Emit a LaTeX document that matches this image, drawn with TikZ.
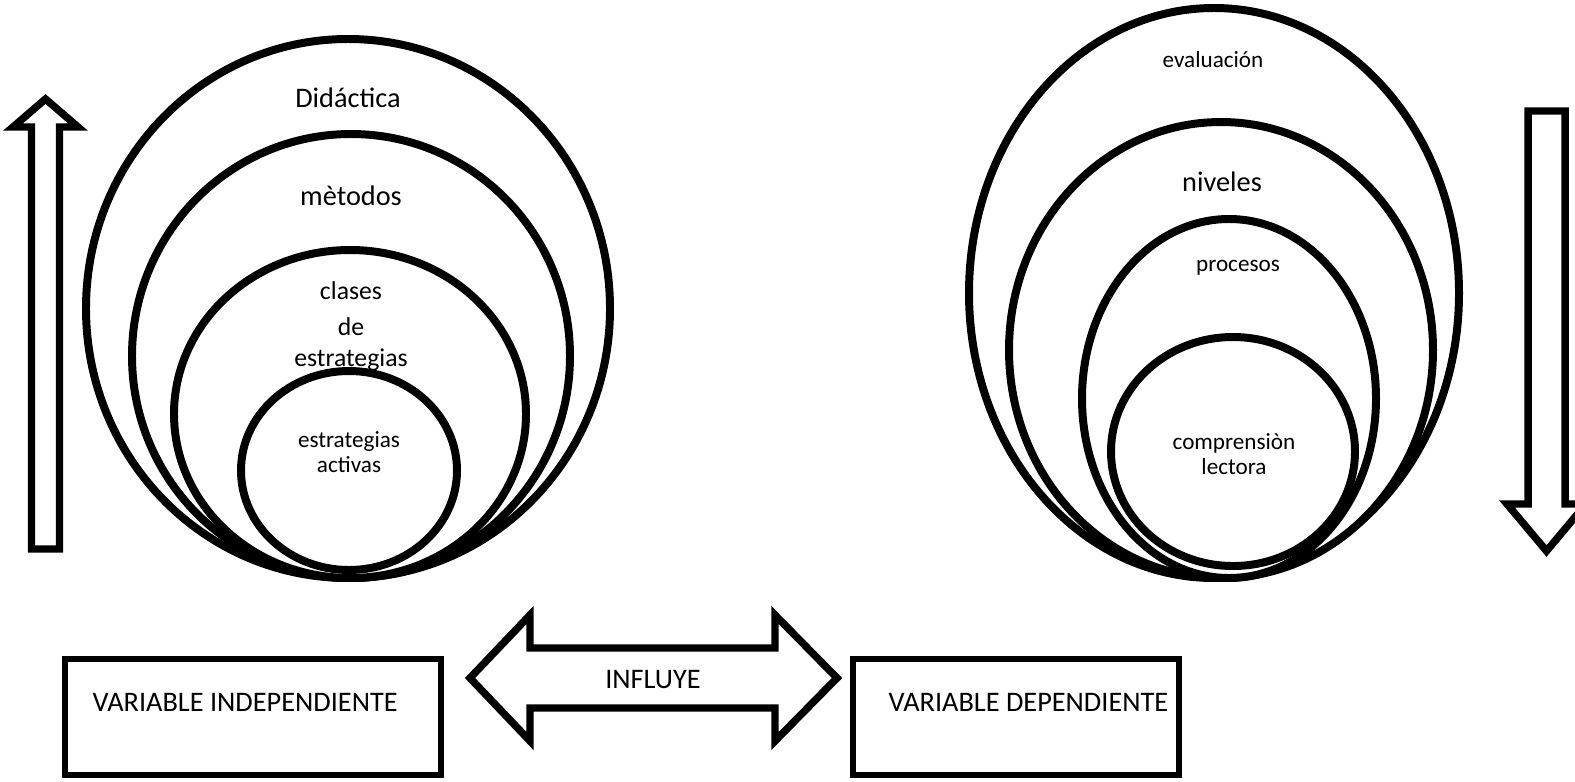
\documentclass[tikz,border=0pt]{standalone}
\usepackage{fontspec}
\setmainfont{Carlito}
\usepackage{tikz}

\begin{document}
\begin{tikzpicture}[x=0.3886pt,y=-0.3886pt,
		ring/.style={draw,line width=3.1pt,fill=white},
		blockarrow/.style={draw,line width=2.9pt,fill=white,line join=miter},
		varbox/.style={draw,line width=2.7pt},
		biglbl/.style={inner sep=0pt,anchor=base,font=\fontsize{11}{13}\selectfont},
		midlbl/.style={inner sep=0pt,anchor=base,align=center,font=\fontsize{10}{11.7}\selectfont},
		smalllbl/.style={inner sep=0pt,anchor=base,align=center,font=\fontsize{9}{9.5}\selectfont}]
		\useasboundingbox (0,0) rectangle (1575,781);
%		\draw[help lines,step=50] (0,0) grid (1575,781);
		\path (348,308.5) coordinate (didC);
		\path (351,356) coordinate (metC);
		\path (350,414) coordinate (claC);
		\path (349,470.5) coordinate (actC);
		\path (1214,293) coordinate (evaC);
		\path (1221,350) coordinate (nivC);
		\path (1229,398.5) coordinate (proC);
		\path (1233,451.5) coordinate (comC);

		% independiente
		\draw[ring] (didC) ellipse [x radius=262,y radius=269.5];
		\node[biglbl] (didactica) at (348,107) {Didáctica};
		\draw[ring] (metC) ellipse [x radius=219,y radius=222];
		\node[biglbl] (metodos) at (351,205) {mètodos};
		\draw[ring] (claC) ellipse [x radius=176,y radius=164];
		\node[midlbl] (clases) at (351,366) {clases\\[2.3pt]de\\estrategias};
		\draw[ring] (actC) ellipse [x radius=108,y radius=99.5];
		\node[smalllbl] (activas) at (349,472) {estrategias\\activas};

		% dependiente
		\draw[ring] (evaC) ellipse [x radius=245,y radius=285];
		\node[smalllbl] (evaluacion) at (1213,67) {evaluación};
		\draw[ring] (nivC) ellipse [x radius=212,y radius=228];
		\node[biglbl] (niveles) at (1222,191) {niveles};
		\draw[ring] (proC) ellipse [x radius=147,y radius=179.5];
		\node[smalllbl] (procesos) at (1238,271) {procesos};
		\draw[ring] (comC) ellipse [x radius=122,y radius=114.5];
		\node[smalllbl] (comprension) at (1234,474) {comprensiòn\\lectora};

		% flechas
		\draw[blockarrow] (31.5,549) -- (31.5,127) -- (13,127) -- (45.5,99)
			-- (78,127) -- (59.5,127) -- (59.5,549) -- cycle;
		\draw[blockarrow] (1528,111) -- (1565,111) -- (1565,504) -- (1586,504)
			-- (1546.5,551) -- (1507,504) -- (1528,504) -- cycle;
		\draw[blockarrow] (470,678) -- (530,615) -- (530,648) -- (775,648) -- (775,615)
			-- (837,678) -- (775,741) -- (775,708) -- (530,708) -- (530,741) -- cycle;
		\node[biglbl] (influye) at (653,688) {INFLUYE};

		% variables
		\draw[varbox] (65,659) rectangle (441,775);
		\node[biglbl,anchor=base west] (indep) at (92,711) {VARIABLE INDEPENDIENTE};
		\draw[varbox] (853,659) rectangle (1179,775);
		\node[biglbl,anchor=base west] (dep) at (888,711) {VARIABLE DEPENDIENTE};
	\end{tikzpicture}
\end{document}
